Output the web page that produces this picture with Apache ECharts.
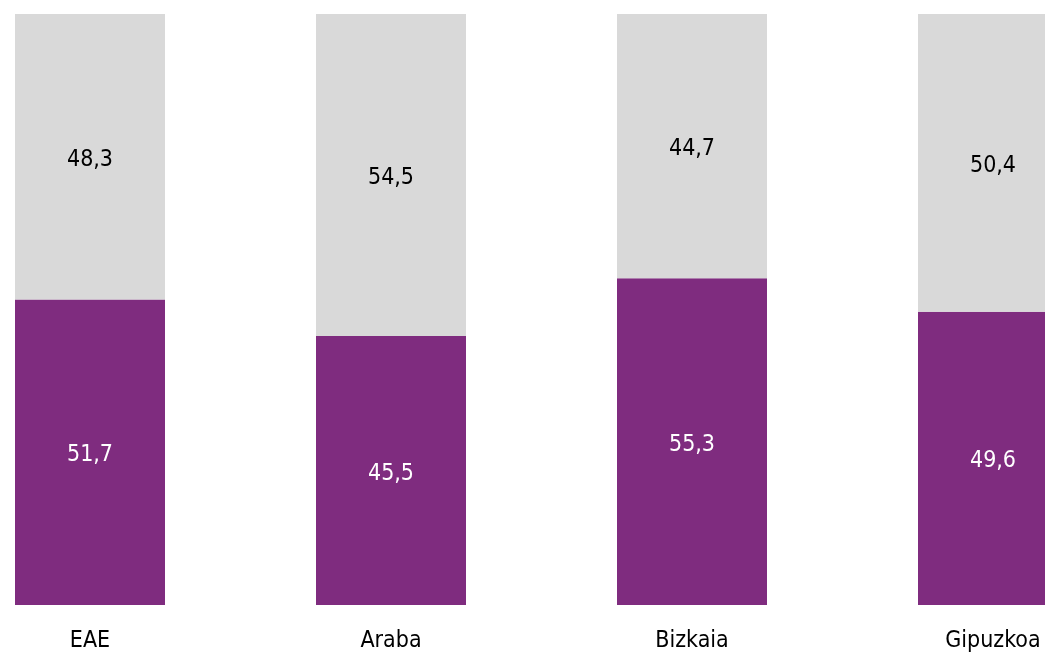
<!DOCTYPE html>
<html>
<head>
<meta charset="utf-8">
<script src="https://cdn.jsdelivr.net/npm/echarts@6/dist/echarts.min.js"></script>
<style>
  html, body { margin: 0; padding: 0; background: #fff; }
  #chart { width: 1045px; height: 654px; }
</style>
</head>
<body>
<div id="chart"></div>
<script>
const categories = ["EAE", "Araba", "Bizkaia", "Gipuzkoa"];
const purpleValues = [51.7, 45.5, 55.3, 49.6];
const greyValues = [48.3, 54.5, 44.7, 50.4];

const font = '"Liberation Sans Narrow", "DejaVu Sans Condensed", sans-serif';
const fmt = p => String(p.value).replace(".", ",");

const dom = document.getElementById("chart");
const chart = echarts.init(dom);
chart.setOption({
  animation: false,
  grid: { left: 90, right: 52, top: 14, bottom: 49 },
  xAxis: {
    type: "category",
    data: categories,
    boundaryGap: false,
    axisLine: { show: false },
    axisTick: { show: false },
    axisLabel: { color: "#000", fontSize: 23, fontFamily: font, margin: 25 }
  },
  yAxis: { type: "value", min: 0, max: 100, show: false, splitLine: { show: false } },
  series: [
    {
      name: "purple",
      type: "bar",
      stack: "total",
      barWidth: 150,
      clip: false,
      data: purpleValues,
      itemStyle: { color: "#7f2c7f" },
      label: { show: true, position: "inside", offset: [0, 3], color: "#fff", fontSize: 23, fontFamily: font, formatter: fmt }
    },
    {
      name: "grey",
      type: "bar",
      stack: "total",
      barWidth: 150,
      clip: false,
      data: greyValues,
      itemStyle: { color: "#d9d9d9" },
      label: { show: true, position: "inside", offset: [0, 3], color: "#000", fontSize: 23, fontFamily: font, formatter: fmt }
    }
  ]
});
window.addEventListener("resize", () => chart.resize());
</script>
</body>
</html>
